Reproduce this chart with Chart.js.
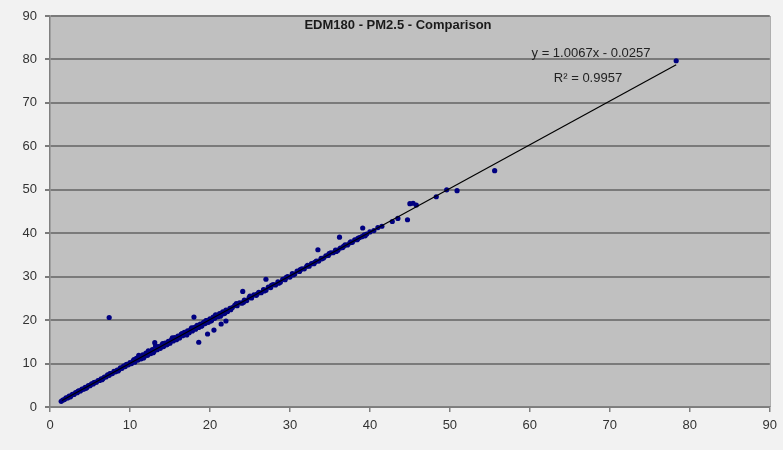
<!DOCTYPE html>
<html>
<head>
<meta charset="utf-8">
<title>EDM180 - PM2.5 - Comparison</title>
<script src="https://cdn.jsdelivr.net/npm/chart.js@4"></script>
<style>
  body { margin: 0; background: #f2f2f2; }
  #chart { display: block; }
</style>
</head>
<body>
<canvas id="chart" width="783" height="450"></canvas>
<script>
const chartTitle = 'EDM180 - PM2.5 - Comparison'
const trendLabel = 'y = 1.0067x - 0.0257'
const r2Label = 'R² = 0.9957'

const axisTicks = [0, 10, 20, 30, 40, 50, 60, 70, 80, 90]

// reference x / EDM180 y
const measured = [
  [1.4, 1.3], [1.6, 1.6], [1.8, 1.7], [2.0, 2.1], [2.2, 2.1], [2.4, 2.5], [2.6, 2.5], [2.8, 2.9],
  [3.0, 2.9], [3.2, 3.3], [3.4, 3.3], [3.6, 3.7], [3.8, 3.7], [4.0, 4.1], [4.2, 4.1], [4.4, 4.5],
  [4.6, 4.5], [4.8, 4.9], [5.0, 4.9], [5.2, 5.3], [5.4, 5.3], [5.6, 5.7], [5.8, 5.7], [6.0, 6.1],
  [6.2, 6.1], [6.4, 6.5], [6.6, 6.5], [6.8, 6.9], [7.0, 6.9], [7.2, 7.4], [7.4, 7.3], [7.6, 7.7],
  [7.8, 7.7], [8.0, 8.2], [8.2, 8.1], [8.4, 8.5], [8.6, 8.5], [8.8, 9.0], [9.0, 8.9], [9.2, 9.4],
  [9.4, 9.3], [9.6, 9.8], [9.8, 9.7], [10.0, 10.2], [10.2, 10.0],
  [10.4, 10.6], [10.6, 10.3], [10.8, 11.2], [11.0, 10.8], [11.2, 11.5], [11.4, 11.1], [11.6, 12.0],
  [11.8, 11.6], [12.0, 12.4], [12.2, 11.9], [12.4, 12.6], [12.6, 12.3], [12.8, 13.2], [13.0, 12.8],
  [13.2, 14.0], [13.4, 13.2], [13.6, 13.9], [13.8, 13.5], [14.0, 14.3], [14.2, 13.9], [14.4, 14.7],
  [14.6, 14.3], [14.8, 15.1], [15.0, 14.7], [15.2, 15.5], [15.4, 15.2], [15.6, 16.0], [15.8, 15.5],
  [16.0, 16.3], [16.2, 15.9], [16.4, 16.7], [16.6, 16.4], [16.8, 17.2], [17.0, 16.8], [17.2, 17.5],
  [17.4, 17.1], [17.6, 17.9], [17.8, 17.5], [18.0, 18.3], [18.2, 17.9], [18.4, 18.8], [18.6, 18.3],
  [18.8, 19.1], [19.0, 18.7], [19.2, 19.5], [19.4, 19.2], [19.6, 19.9], [19.8, 19.5], [20.0, 20.3],
  [20.2, 19.9], [20.4, 20.7], [20.6, 20.4], [20.8, 21.1], [21.0, 20.8], [21.2, 21.5], [21.4, 21.2],
  [21.6, 21.9], [21.8, 21.5], [22.0, 22.3], [22.2, 22.0],
  [22.5, 22.7], [22.8, 22.9], [23.1, 23.4], [23.4, 23.3], [23.7, 24.0], [24.0, 23.9], [24.3, 24.6],
  [24.6, 24.5], [24.9, 25.2], [25.2, 25.1], [25.5, 25.8], [25.8, 25.7], [26.1, 26.4], [26.4, 26.3],
  [26.7, 27.0], [27.0, 26.9], [27.3, 27.6], [27.6, 27.5], [27.9, 28.2], [28.2, 28.1], [28.5, 28.8],
  [28.8, 28.7], [29.1, 29.4], [29.4, 29.3], [29.7, 30.0], [30.0, 29.9], [30.3, 30.7], [30.6, 30.6],
  [30.9, 31.3], [31.2, 31.2], [31.5, 31.8], [31.8, 31.8], [32.1, 32.4], [32.4, 32.4], [32.7, 33.0],
  [33.0, 33.0], [33.3, 33.6], [33.6, 33.6], [33.9, 34.2], [34.2, 34.3], [34.5, 34.8], [34.8, 34.9],
  [35.1, 35.5], [35.4, 35.5], [35.7, 36.1], [36.0, 36.1], [36.3, 36.6], [36.6, 36.7], [36.9, 37.3],
  [37.2, 37.3], [37.5, 37.8], [37.8, 37.9], [38.1, 38.5], [38.4, 38.5], [38.7, 39.0], [39.0, 39.2],
  [39.3, 39.6], [39.6, 39.8], [40.0, 40.3], [40.5, 40.6], [41.0, 41.3], [41.5, 41.6],
  // second pass through the thick part of the band
  [2.5, 2.3], [3.5, 3.6], [4.5, 4.3], [5.5, 5.6], [6.5, 6.3], [7.5, 7.7], [8.5, 8.3], [9.5, 9.7],
  [10.5, 10.9], [11.1, 11.9], [11.7, 11.3], [12.3, 12.9], [12.9, 12.5], [13.5, 13.8], [14.1, 14.6],
  [14.7, 14.5], [15.3, 15.9], [15.9, 15.7], [16.5, 16.9], [17.1, 16.6], [17.7, 18.2], [18.3, 18.5],
  [18.9, 18.6], [19.5, 19.9], [20.1, 19.8], [20.7, 21.2], [21.3, 20.9], [21.9, 21.7], [22.6, 22.4],
  [23.3, 23.8], [24.2, 24.1], [25.0, 25.5], [25.9, 26.0], [26.8, 26.7], [27.7, 28.0], [28.6, 28.5],
  [29.5, 29.8], [30.4, 30.4], [31.3, 31.6], [32.2, 32.6], [33.1, 33.3], [34.0, 34.1], [34.9, 35.3],
  [35.8, 35.8], [36.7, 37.0], [37.6, 38.0], [38.5, 38.8], [39.4, 39.4],
  // scattered points
  [7.4, 20.6], [18.0, 20.7], [18.6, 14.9], [19.7, 16.8], [20.5, 17.7], [21.4, 19.1], [22.0, 19.8],
  [13.1, 14.8], [24.1, 26.6], [27.0, 29.4], [33.5, 36.2], [36.2, 39.1], [39.1, 41.2], [42.8, 42.7],
  [43.5, 43.4], [44.7, 43.1], [45.0, 46.8], [45.4, 46.9], [45.8, 46.5], [48.3, 48.4], [49.6, 50.0],
  [50.9, 49.8], [55.6, 54.4], [78.3, 79.7],
]

// linear trend ends
const trendX = [1.5, 78.3]
const trendY = [1.48, 78.8]

const plotBg = {
  id: 'plotBg',
  beforeDraw(chart) {
    const { ctx, chartArea: a } = chart
    ctx.save()
    ctx.fillStyle = '#c0c0c0'
    ctx.fillRect(a.left, a.top, a.right - a.left, a.bottom - a.top)
    ctx.strokeStyle = '#9a9a9a'
    ctx.lineWidth = 1
    ctx.beginPath()
    ctx.moveTo(a.right + 0.5, a.top)
    ctx.lineTo(a.right + 0.5, a.bottom)
    ctx.stroke()
    ctx.restore()
  },
}

const labels = {
  id: 'labels',
  afterDraw(chart) {
    const { ctx } = chart
    ctx.save()
    ctx.textAlign = 'center'
    ctx.textBaseline = 'middle'
    ctx.fillStyle = '#1a1a1a'
    ctx.font = 'bold 13px "Liberation Sans", Arial, sans-serif'
    ctx.fillText(chartTitle, 398, 25)
    ctx.font = '13px "Liberation Sans", Arial, sans-serif'
    ctx.fillStyle = '#222'
    ctx.fillText(trendLabel, 591, 53)
    ctx.fillText(r2Label, 588, 78)
    ctx.restore()
  },
}

const tickFont = { family: '"Liberation Sans", Arial, sans-serif', size: 13 }

new Chart(document.getElementById('chart'), {
  type: 'scatter',
  data: {
    datasets: [
      {
        data: measured.map(([x, y]) => ({ x, y })),
        backgroundColor: '#000080',
        borderWidth: 0,
        pointRadius: 2.6,
        order: 2,
      },
      {
        type: 'line',
        data: trendX.map((x, i) => ({ x, y: trendY[i] })),
        borderColor: '#000',
        borderWidth: 1.2,
        pointRadius: 0,
        order: 1,
      },
    ],
  },
  options: {
    responsive: false,
    animation: false,
    layout: { padding: { top: 16, right: 12, left: 0, bottom: 0 } },
    plugins: {
      legend: { display: false },
      title: { display: false },
      tooltip: { enabled: false },
    },
    scales: {
      x: {
        type: 'linear',
        min: 0,
        max: 90,
        afterBuildTicks: (s) => { s.ticks = axisTicks.map((v) => ({ value: v })) },
        afterFit: (s) => { s.height = 43 },
        ticks: { color: '#333', font: tickFont, padding: 6 },
        grid: { drawOnChartArea: false, color: '#808080', tickLength: 5, lineWidth: 1.5 },
        border: { color: '#808080', width: 1.5 },
      },
      y: {
        type: 'linear',
        min: 0,
        max: 90,
        afterBuildTicks: (s) => { s.ticks = axisTicks.map((v) => ({ value: v })) },
        afterFit: (s) => { s.width = 50 },
        ticks: { color: '#333', font: tickFont, padding: 8 },
        grid: { color: '#7a7a7a', tickLength: 5, lineWidth: 2 },
        border: { color: '#808080', width: 1.5 },
      },
    },
  },
  plugins: [plotBg, labels],
})
</script>
</body>
</html>
